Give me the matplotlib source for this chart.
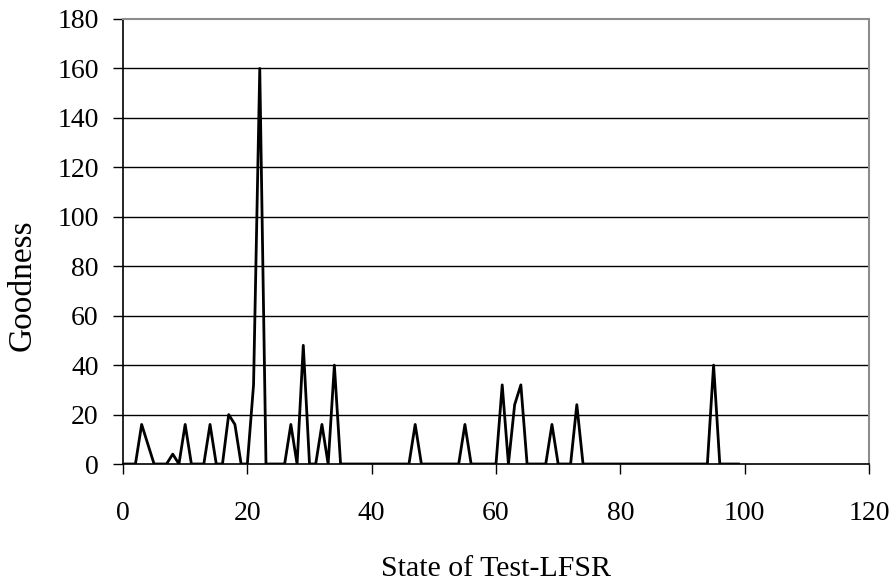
import matplotlib
matplotlib.use("Agg")
import matplotlib.pyplot as plt

# Goodness value for each state of the test LFSR
states = list(range(0, 100))
goodness = [
    0, 0, 0, 16, 8, 0, 0, 0, 4, 0,        # 0-9
    16, 0, 0, 0, 16, 0, 0, 20, 16, 0,     # 10-19
    0, 32, 160, 0, 0, 0, 0, 16, 0, 48,    # 20-29
    0, 0, 16, 0, 40, 0, 0, 0, 0, 0,       # 30-39
    0, 0, 0, 0, 0, 0, 0, 16, 0, 0,        # 40-49
    0, 0, 0, 0, 0, 16, 0, 0, 0, 0,        # 50-59
    0, 32, 0, 24, 32, 0, 0, 0, 0, 16,     # 60-69
    0, 0, 0, 24, 0, 0, 0, 0, 0, 0,        # 70-79
    0, 0, 0, 0, 0, 0, 0, 0, 0, 0,         # 80-89
    0, 0, 0, 0, 0, 40, 0, 0, 0, 0,        # 90-99
]

x_ticks = [0, 20, 40, 60, 80, 100, 120]
y_ticks = [0, 20, 40, 60, 80, 100, 120, 140, 160, 180]

plt.rcParams['font.family'] = ['Liberation Serif', 'DejaVu Serif']

W, H = 896, 583
fig = plt.figure(figsize=(W / 100, H / 100), dpi=100)
ax = fig.add_axes([123 / W, 1 - 464 / H, (869 - 123) / W, (464 - 19) / H])

# horizontal gridlines
for yv in y_ticks[1:-1]:
    ax.axhline(yv, color='black', linewidth=1.0, zorder=1)

ax.plot(states, goodness, color='black', linewidth=2.0, zorder=3)

ax.set_xlim(0, 120)
ax.set_ylim(0, 180)
ax.set_xticks(x_ticks)
ax.set_yticks(y_ticks)

ax.spines['left'].set_color('black')
ax.spines['bottom'].set_color('black')
ax.spines['left'].set_linewidth(1.2)
ax.spines['bottom'].set_linewidth(1.2)
ax.spines['top'].set_color('#8c8c8c')
ax.spines['right'].set_color('#8c8c8c')
ax.spines['top'].set_linewidth(1.5)
ax.spines['right'].set_linewidth(1.5)

ax.tick_params(axis='x', direction='out', length=7, width=1, pad=20, labelsize=20)
ax.tick_params(axis='y', direction='out', length=7, width=1, pad=10.5, labelsize=20)

fig_tr = fig.transFigure
ax.set_xlabel('State of Test-LFSR', fontsize=21.5)
ax.xaxis.label.set_va('baseline')
ax.xaxis.set_label_coords(0.5 * (123 + 869) / W, 1 - 576 / H, transform=fig_tr)

ax.set_ylabel('Goodness', fontsize=24)
ax.yaxis.label.set_va('center')
ax.yaxis.label.set_ha('center')
ax.yaxis.set_label_coords(22 / W, 1 - 285 / H, transform=fig_tr)

fig.savefig('out.png', dpi=100)
